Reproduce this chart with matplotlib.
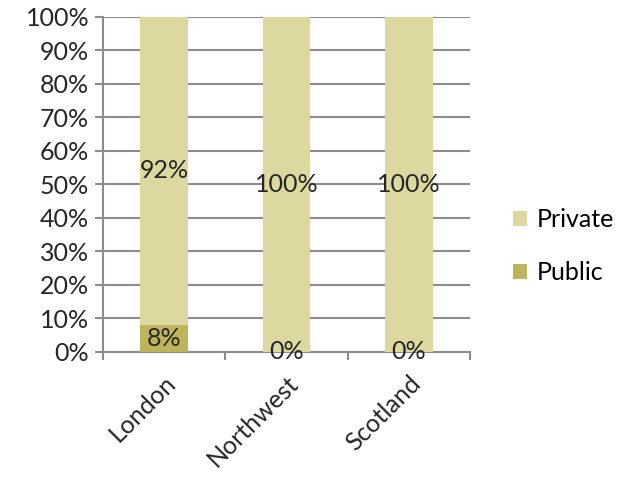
import numpy as np
import matplotlib.pyplot as plt
from matplotlib.ticker import FixedLocator, PercentFormatter

plt.rcParams['font.family'] = ['Lato', 'DejaVu Sans']

regions = ['London', 'Northwest', 'Scotland']
public = [8, 0, 0]
private = [92, 100, 100]

c_private = '#dcd89f'
c_public = '#bcb55b'
c_axis = '#8c8c8c'
c_text = '#262626'
fs = 18

fig = plt.figure(figsize=(6.21, 4.82), dpi=100)
ax = fig.add_axes([0.166, 0.270, 0.591, 0.695])

x = np.arange(len(regions))
w = 0.39
b1 = ax.bar(x, public, w, color=c_public, label='Public', zorder=3)
b2 = ax.bar(x, private, w, bottom=public, color=c_private, label='Private', zorder=3)

# segment labels
for i in range(len(regions)):
    ax.text(x[i], public[i] / 2, f'{public[i]}%', ha='center', va='center',
            fontsize=fs, color=c_text, zorder=4)
    ax.text(x[i], public[i] + private[i] / 2, f'{private[i]}%', ha='center',
            va='center', fontsize=fs, color=c_text, zorder=4)

ax.set_xlim(-0.5, 2.5)
ax.set_ylim(0, 100)
ax.yaxis.set_major_locator(FixedLocator(np.arange(0, 101, 10)))
ax.yaxis.set_major_formatter(PercentFormatter(decimals=0))
ax.grid(axis='y', color=c_axis, linewidth=1.5, zorder=0)

ax.set_xticks(x)
ax.set_xticklabels(regions, rotation=45, ha='right', rotation_mode='anchor')
ax.xaxis.set_minor_locator(FixedLocator([-0.5, 0.5, 1.5, 2.5]))
ax.tick_params(axis='x', which='major', length=0, pad=14, labelsize=fs,
               labelcolor=c_text)
ax.tick_params(axis='x', which='minor', length=6, width=1.5, color=c_axis)
ax.tick_params(axis='y', length=6, width=1.5, color=c_axis, labelsize=fs,
               labelcolor=c_text, pad=4)

for s in ['top', 'right']:
    ax.spines[s].set_visible(False)
for s in ['left', 'bottom']:
    ax.spines[s].set_color(c_axis)
    ax.spines[s].set_linewidth(1.5)

ax.legend(handles=[b2, b1], loc='center left', bbox_to_anchor=(1.055, 0.315),
          frameon=False, fontsize=fs, handlelength=0.55, handleheight=0.55,
          labelspacing=1.2, handletextpad=0.4)

fig.savefig('out.png', dpi=100)
